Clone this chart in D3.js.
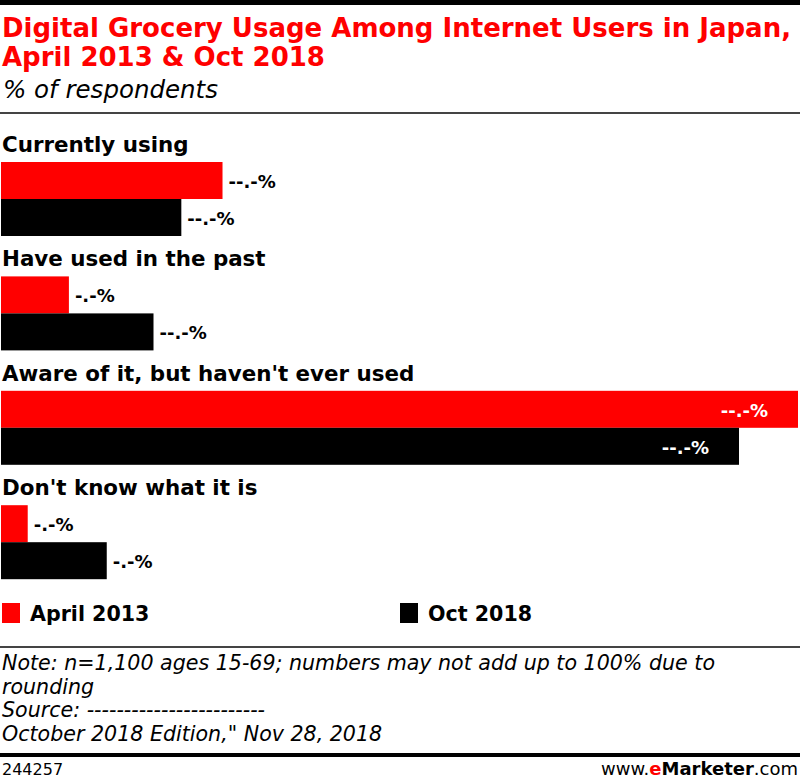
<!DOCTYPE html>
<html>
<head>
<meta charset="utf-8">
<script src="https://cdn.jsdelivr.net/npm/d3@7"></script>
<style>
  body { margin: 0; background: #fff; }
  svg { display: block; font-family: "DejaVu Sans", sans-serif; }
</style>
</head>
<body>
<div id="chart"></div>
<script>
// Chart data
const categories = ["Currently using", "Have used in the past", "Aware of it, but haven't ever used", "Don't know what it is"];
const seriesNames = ["April 2013", "Oct 2018"];
const april2013 = [19.9, 6.1, 71.6, 2.4];
const oct2018 = [16.2, 13.7, 66.3, 9.5];
const aprilLabels = ["--.-%", "-.-%", "--.-%", "-.-%"];
const octLabels = ["--.-%", "--.-%", "--.-%", "-.-%"];
const seriesColors = ["#ff0000", "#000000"];
const noteLines = [
  "Note: n=1,100 ages 15-69; numbers may not add up to 100% due to",
  "rounding",
  "Source: ------------------------",
  "October 2018 Edition,\" Nov 28, 2018"
];

const width = 800, height = 780;

const svg = d3.select("#chart")
  .append("svg")
  .attr("width", width)
  .attr("height", height);

// Header
svg.append("rect").attr("x", 0).attr("y", 0).attr("width", width).attr("height", 5).attr("fill", "#000");

const title = svg.append("text")
  .attr("fill", "#ff0000")
  .style("font-weight", 700)
  .style("font-size", "26px");
title.append("tspan").attr("x", 2).attr("y", 37).text("Digital Grocery Usage Among Internet Users in Japan,");
title.append("tspan").attr("x", 2).attr("y", 66).text("April 2013 & Oct 2018");

svg.append("text")
  .attr("x", 3).attr("y", 98)
  .style("font-style", "italic")
  .style("font-size", "24.5px")
  .attr("fill", "#000")
  .text("% of respondents");

svg.append("rect").attr("x", 0).attr("y", 112).attr("width", width).attr("height", 2).attr("fill", "#444");

// Scales
const rows = categories.map((c, i) => ({
  cat: c,
  values: [april2013[i], oct2018[i]],
  labels: [aprilLabels[i], octLabels[i]]
}));

const y0 = d3.scaleBand()
  .domain(categories)
  .range([126, 126 + 4 * 114.4]);

const y1 = d3.scaleBand()
  .domain(seriesNames)
  .range([36, 36 + 74]);

const x = d3.scaleLinear()
  .domain([0, d3.max([...april2013, ...oct2018])])
  .range([1, 798]);

const groups = svg.selectAll("g.group")
  .data(rows)
  .join("g")
  .attr("class", "group")
  .attr("transform", d => `translate(0,${y0(d.cat)})`);

groups.append("text")
  .attr("x", 2)
  .attr("y", 26)
  .style("font-weight", 700)
  .style("font-size", "21.4px")
  .attr("fill", "#000")
  .text(d => d.cat);

const bars = groups.selectAll("g.bar")
  .data(d => d.values.map((v, i) => ({ name: seriesNames[i], value: v, label: d.labels[i], color: seriesColors[i] })))
  .join("g")
  .attr("class", "bar");

bars.append("rect")
  .attr("x", x(0))
  .attr("y", d => y1(d.name))
  .attr("width", d => x(d.value) - x(0))
  .attr("height", y1.bandwidth())
  .attr("fill", d => d.color);

// value labels: inside the long bars, outside the short ones
bars.append("text")
  .attr("x", d => x(d.value) > 600 ? x(d.value) - 30 : x(d.value) + 6)
  .attr("y", d => y1(d.name) + y1.bandwidth() / 2 + 1)
  .attr("dy", "0.35em")
  .attr("text-anchor", d => x(d.value) > 600 ? "end" : "start")
  .attr("fill", d => x(d.value) > 600 ? "#fff" : "#000")
  .style("font-weight", 700)
  .style("font-size", "18px")
  .text(d => d.label);

// Legend
const legend = svg.selectAll("g.legend")
  .data(seriesNames)
  .join("g")
  .attr("class", "legend")
  .attr("transform", (d, i) => `translate(${2 + i * 398},603)`);

legend.append("rect")
  .attr("width", 18).attr("height", 20)
  .attr("fill", (d, i) => seriesColors[i]);

legend.append("text")
  .attr("x", 28).attr("y", 18)
  .style("font-weight", 700)
  .style("font-size", "20.6px")
  .attr("fill", "#000")
  .text(d => d);

// Footer
svg.append("rect").attr("x", 0).attr("y", 646).attr("width", width).attr("height", 2).attr("fill", "#444");

svg.append("g")
  .selectAll("text")
  .data(noteLines)
  .join("text")
  .attr("x", 2)
  .attr("y", (d, i) => 670 + i * 23.5)
  .style("font-style", "italic")
  .style("font-size", "20.6px")
  .attr("fill", "#000")
  .text(d => d);

svg.append("rect").attr("x", 0).attr("y", 753).attr("width", width).attr("height", 4).attr("fill", "#000");

svg.append("text")
  .attr("x", 2).attr("y", 775)
  .style("font-size", "16px")
  .attr("fill", "#000")
  .text("244257");

const brand = svg.append("text")
  .attr("x", 798).attr("y", 775)
  .attr("text-anchor", "end")
  .style("font-size", "18px")
  .attr("fill", "#000");
brand.append("tspan").text("www.");
brand.append("tspan").attr("fill", "#ff0000").style("font-weight", 700).text("e");
brand.append("tspan").style("font-weight", 700).text("Marketer");
brand.append("tspan").text(".com");
</script>
</body>
</html>
